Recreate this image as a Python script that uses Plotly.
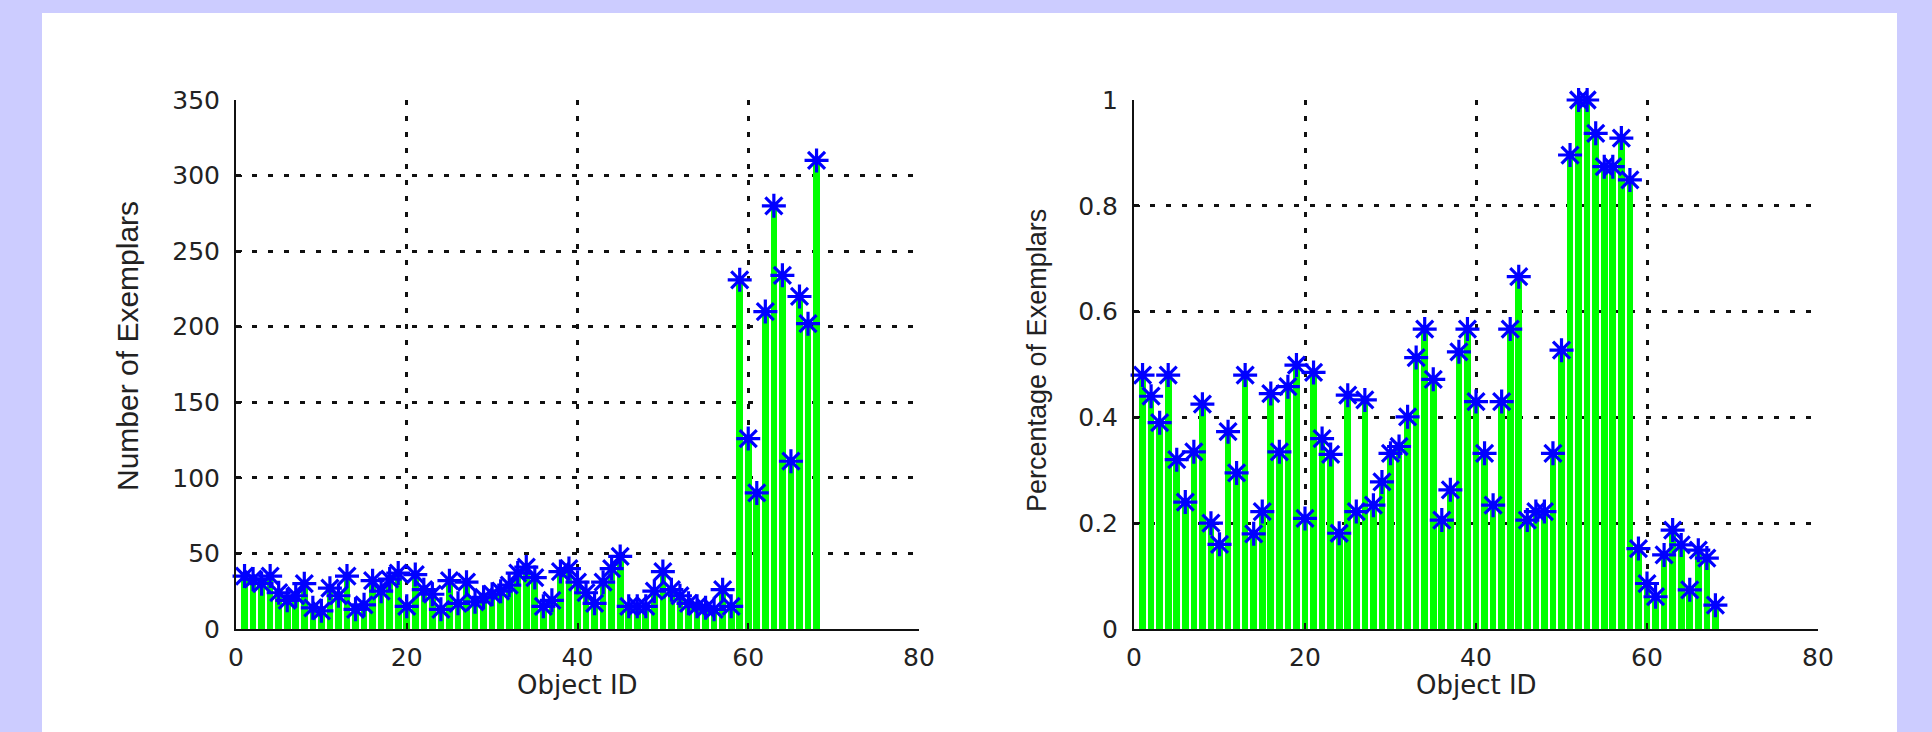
import plotly.graph_objects as go

W, H = 1932, 732

object_ids = list(range(1, 69))

num_exemplars = [
    35, 33, 30, 35, 24, 19, 22, 30, 14, 12,
    27, 22, 35, 13, 16, 32, 25, 33, 37, 15,
    36, 26, 23, 13, 32, 17, 31, 18, 21, 23,
    25, 29, 37, 41, 34, 15, 19, 38, 40, 31,
    24, 17, 31, 40, 48, 15, 15, 15, 25, 38,
    26, 22, 17, 15, 14, 13, 26, 15, 231, 126,
    90, 210, 280, 234, 111, 220, 202, 310,
]

pct_exemplars = [
    0.48, 0.44, 0.39, 0.48, 0.32, 0.24, 0.335, 0.425, 0.20, 0.16,
    0.373, 0.295, 0.48, 0.18, 0.222, 0.445, 0.335, 0.458, 0.499, 0.209,
    0.485, 0.36, 0.33, 0.181, 0.442, 0.222, 0.433, 0.234, 0.278, 0.332,
    0.345, 0.401, 0.513, 0.567, 0.472, 0.206, 0.263, 0.524, 0.567, 0.43,
    0.332, 0.234, 0.43, 0.567, 0.666, 0.206, 0.222, 0.222, 0.332, 0.527,
    0.896, 1.0, 1.0, 0.937, 0.874, 0.874, 0.928, 0.849, 0.152, 0.086,
    0.061, 0.14, 0.187, 0.159, 0.074, 0.149, 0.134, 0.045,
]

x_ticks = [0, 20, 40, 60, 80]
y1_ticks = [0, 50, 100, 150, 200, 250, 300, 350]
y2_ticks = [0, 0.2, 0.4, 0.6, 0.8, 1]
y2_ticktext = ["0", "0.2", "0.4", "0.6", "0.8", "1"]

STEM = "#00ff00"
MARK = "#0000ff"


def px_x(p):
    return p / W


def px_y(p):
    return 1 - p / H


fig = go.Figure()

for i, vals in enumerate([num_exemplars, pct_exemplars]):
    xa = "x" if i == 0 else "x2"
    ya = "y" if i == 0 else "y2"
    fig.add_trace(go.Bar(
        x=object_ids, y=vals, width=0.78, marker=dict(color=STEM, line=dict(width=0)),
        xaxis=xa, yaxis=ya, showlegend=False, hoverinfo="skip"))
    fig.add_trace(go.Scatter(
        x=object_ids, y=vals, mode="markers",
        marker=dict(symbol="asterisk-open", size=20, color=MARK,
                    line=dict(color=MARK, width=3.2)),
        xaxis=xa, yaxis=ya, showlegend=False, cliponaxis=False))

tickfont = dict(family="DejaVu Sans", size=25, color="#222222")
common_x = dict(range=[0, 80], tickvals=x_ticks, showgrid=True, gridcolor="#111111",
                griddash="5px,11px", gridwidth=2.5, showline=True, linecolor="#111111",
                linewidth=2, ticks="inside", ticklen=6, tickwidth=2, tickcolor="#111111",
                tickfont=tickfont, zeroline=False, ticklabelstandoff=5, fixedrange=True,
                automargin=False)
common_y = dict(showgrid=True, gridcolor="#111111", griddash="5px,11px", gridwidth=2.5,
                showline=True, linecolor="#111111", linewidth=2, ticks="inside",
                ticklen=6, tickwidth=2, tickcolor="#111111", tickfont=tickfont,
                zeroline=False, ticklabelstandoff=9, fixedrange=True, automargin=False)

fig.update_layout(
    width=W, height=H,
    margin=dict(l=0, r=0, t=0, b=0, pad=0, autoexpand=False),
    paper_bgcolor="#ccccff",
    plot_bgcolor="rgba(0,0,0,0)",
    bargap=0,
    xaxis=dict(domain=[px_x(236), px_x(919)], anchor="y", **common_x),
    yaxis=dict(domain=[px_y(629), px_y(100)], anchor="x", range=[0, 350],
               tickvals=y1_ticks, **common_y),
    xaxis2=dict(domain=[px_x(1134), px_x(1818)], anchor="y2", **common_x),
    yaxis2=dict(domain=[px_y(629), px_y(100)], anchor="x2", range=[0, 1],
                tickvals=y2_ticks, ticktext=y2_ticktext, **common_y),
    shapes=[dict(type="rect", xref="paper", yref="paper",
                 x0=px_x(42), x1=px_x(1897), y0=0, y1=px_y(13),
                 fillcolor="white", line=dict(width=0), layer="below")],
    annotations=[
        dict(text="Object ID", xref="paper", yref="paper", x=px_x(577), y=px_y(685),
             showarrow=False, font=dict(family="DejaVu Sans", size=26, color="#222222"),
             xanchor="center", yanchor="middle"),
        dict(text="Object ID", xref="paper", yref="paper", x=px_x(1476), y=px_y(685),
             showarrow=False, font=dict(family="DejaVu Sans", size=26, color="#222222"),
             xanchor="center", yanchor="middle"),
        dict(text="Number of Exemplars", xref="paper", yref="paper", x=px_x(127),
             y=px_y(346), textangle=-90, showarrow=False,
             font=dict(family="Liberation Sans", size=30, color="#222222"),
             xanchor="center", yanchor="middle"),
        dict(text="Percentage of Exemplars", xref="paper", yref="paper", x=px_x(1037),
             y=px_y(361), textangle=-90, showarrow=False,
             font=dict(family="Liberation Sans", size=27, color="#222222"),
             xanchor="center", yanchor="middle"),
    ],
)

fig.write_html(
    "out.html",
    config={"displayModeBar": False},
    post_script="document.body.style.margin='0';document.body.style.overflow='hidden';",
)
